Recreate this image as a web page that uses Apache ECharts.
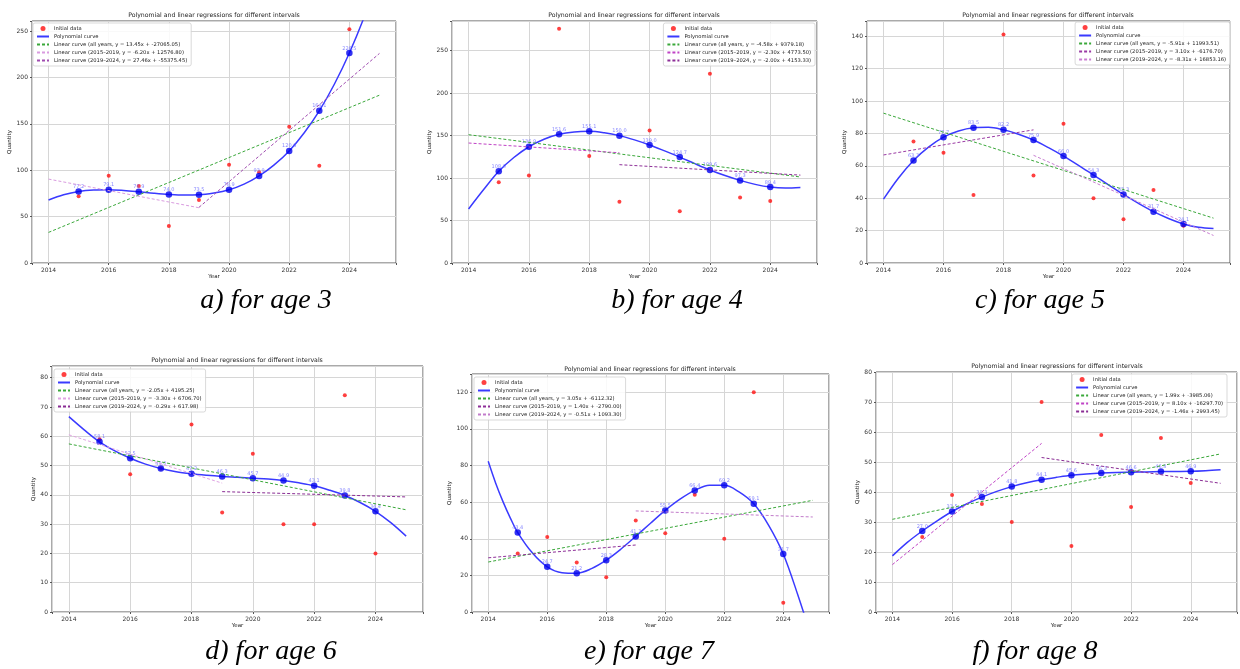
<!DOCTYPE html>
<html>
<head>
<meta charset="utf-8">
<script src="https://cdn.jsdelivr.net/npm/echarts@6/dist/echarts.min.js"></script>
<style>html,body{margin:0;padding:0;background:#fff}#c{width:1240px;height:669px}</style>
</head>
<body>
<div id="c"></div>
<script>
// ---------- data ----------
const years = [2015, 2016, 2017, 2018, 2019, 2020, 2021, 2022, 2023, 2024];
const xTickYears = [2014, 2016, 2018, 2020, 2022, 2024];
const titleText = 'Polynomial and linear regressions for different intervals';

// age 3
const initial3 = [72, 94, 83, 40, 68, 106, 98, 147, 105, 252];
const poly3 = [77.2, 79.1, 76.9, 74.0, 73.5, 78.9, 93.9, 120.9, 164.1, 226.5];
const curve3 = [[2014,68],[2014.5,73.6],[2015,77.2],[2015.5,78.8],[2016,79.1],[2016.5,78.3],[2017,76.9],[2017.5,75.3],[2018,74.0],[2018.5,73.3],[2019,73.5],[2019.5,75.4],[2020,78.9],[2020.5,85.0],[2021,93.9],[2021.5,105.8],[2022,120.9],[2022.5,140.5],[2023,164.1],[2023.5,192.8],[2024,226.5],[2024.5,266],[2025,312]];
const lineAll3 = [[2014,33],[2025,181]];
const line1519_3 = [[2014,90.5],[2019,59.6]];
const line1924_3 = [[2019,60],[2025,226]];
const names3 = ['Linear curve (all years, y = 13.45x + -27065.05)', 'Linear curve (2015–2019, y = -6.20x + 12576.80)', 'Linear curve (2019–2024, y = 27.46x + -55375.45)'];

// age 4
const initial4 = [95, 103, 276, 126, 72, 156, 61, 223, 77, 73];
const poly4 = [108.0, 136.9, 151.6, 155.1, 150.0, 139.0, 124.7, 109.6, 97.3, 89.4];
const curve4 = [[2014,63.6],[2014.5,86.5],[2015,108.0],[2015.5,124.2],[2016,136.9],[2016.5,145.8],[2017,151.6],[2017.5,154.4],[2018,155.1],[2018.5,153.4],[2019,150.0],[2019.5,145.0],[2020,139.0],[2020.5,132.0],[2021,124.7],[2021.5,117.0],[2022,109.6],[2022.5,103.0],[2023,97.3],[2023.5,92.6],[2024,89.4],[2024.5,88.3],[2025,89.0]];
const lineAll4 = [[2014,151.1],[2025,101.3]];
const line1519_4 = [[2014,141.3],[2019,129.8]];
const line1924_4 = [[2019,115.8],[2025,103.5]];
const names4 = ['Linear curve (all years, y = -4.58x + 9379.18)', 'Linear curve (2015–2019, y = -2.30x + 4773.50)', 'Linear curve (2019–2024, y = -2.00x + 4153.33)'];

// age 5
const initial5 = [75, 68, 42, 141, 54, 86, 40, 27, 45, 23];
const poly5 = [63.3, 77.7, 83.5, 82.2, 75.9, 66.0, 54.3, 42.3, 31.7, 24.1];
const curve5 = [[2014,39.4],[2014.5,52.5],[2015,63.3],[2015.5,71.5],[2016,77.7],[2016.5,81.5],[2017,83.5],[2017.5,83.8],[2018,82.2],[2018.5,79.5],[2019,75.9],[2019.5,71.2],[2020,66.0],[2020.5,60.3],[2021,54.3],[2021.5,48.3],[2022,42.3],[2022.5,36.8],[2023,31.7],[2023.5,27.5],[2024,24.1],[2024.5,22.0],[2025,21.3]];
const lineAll5 = [[2014,92.5],[2025,27.7]];
const line1519_5 = [[2014,66.7],[2019,82.2]];
const line1924_5 = [[2019,66.5],[2025,17.0]];
const names5 = ['Linear curve (all years, y = -5.91x + 11993.51)', 'Linear curve (2015–2019, y = 3.10x + -6176.70)', 'Linear curve (2019–2024, y = -8.31x + 16853.16)'];

// age 6
const initial6 = [59, 47, 49, 64, 34, 54, 30, 30, 74, 20];
const poly6 = [58.1, 52.5, 49.0, 47.2, 46.3, 45.7, 44.9, 43.1, 39.8, 34.4];
const curve6 = [[2014,66.7],[2014.5,62.2],[2015,58.1],[2015.5,55.0],[2016,52.5],[2016.5,50.5],[2017,49.0],[2017.5,47.9],[2018,47.2],[2018.5,46.7],[2019,46.3],[2019.5,46.0],[2020,45.7],[2020.5,45.4],[2021,44.9],[2021.5,44.1],[2022,43.1],[2022.5,41.6],[2023,39.8],[2023.5,37.4],[2024,34.4],[2024.5,30.5],[2025,25.9]];
const lineAll6 = [[2014,57.4],[2025,34.9]];
const line1519_6 = [[2014,60.5],[2019,44.0]];
const line1924_6 = [[2019,41.1],[2025,39.3]];
const names6 = ['Linear curve (all years, y = -2.05x + 4195.25)', 'Linear curve (2015–2019, y = -3.30x + 6706.70)', 'Linear curve (2019–2024, y = -0.29x + 617.98)'];

// age 7
const initial7 = [32, 41, 27, 19, 50, 43, 64, 40, 120, 5];
const poly7 = [43.4, 24.7, 21.2, 28.3, 41.3, 55.5, 66.4, 69.2, 59.1, 31.7];
const curve7 = [[2014,82.3],[2014.25,70.5],[2014.5,60.3],[2014.75,51.3],[2015,43.4],[2015.5,32.2],[2016,24.7],[2016.5,21.5],[2017,21.2],[2017.5,23.7],[2018,28.3],[2018.5,34.4],[2019,41.3],[2019.5,48.5],[2020,55.5],[2020.5,61.6],[2021,66.4],[2021.5,69.2],[2022,69.2],[2022.5,65.6],[2023,59.1],[2023.5,47.5],[2024,31.7],[2024.5,9],[2025,-16]];
const lineAll7 = [[2014,27.3],[2025,61.0]];
const line1519_7 = [[2014,29.6],[2019,36.6]];
const line1924_7 = [[2019,55.2],[2025,51.9]];
const names7 = ['Linear curve (all years, y = 3.05x + -6112.32)', 'Linear curve (2015–2019, y = 1.40x + -2790.00)', 'Linear curve (2019–2024, y = -0.51x + 1093.30)'];

// age 8
const initial8 = [25, 39, 36, 30, 70, 22, 59, 35, 58, 43];
const poly8 = [27.0, 33.5, 38.3, 41.8, 44.1, 45.6, 46.3, 46.6, 46.8, 46.9];
const curve8 = [[2014,18.7],[2014.5,23.2],[2015,27.0],[2015.5,30.4],[2016,33.5],[2016.5,36.1],[2017,38.3],[2017.5,40.2],[2018,41.8],[2018.5,43.1],[2019,44.1],[2019.5,44.9],[2020,45.6],[2020.5,46.0],[2021,46.3],[2021.5,46.5],[2022,46.6],[2022.5,46.7],[2023,46.8],[2023.5,46.85],[2024,46.9],[2024.5,47.1],[2025,47.4]];
const lineAll8 = [[2014,30.9],[2025,52.7]];
const line1519_8 = [[2014,15.8],[2019,56.2]];
const line1924_8 = [[2019,51.5],[2025,42.9]];
const names8 = ['Linear curve (all years, y = 1.99x + -3985.06)', 'Linear curve (2015–2019, y = 8.10x + -16297.70)', 'Linear curve (2019–2024, y = -1.46x + 2993.45)'];

const captions = ['a) for age 3', 'b) for age 4', 'c) for age 5', 'd) for age 6', 'e) for age 7', 'f) for age 8'];
const yMaxes = [261, 285, 149.4, 84, 130, 80];
const yIntervals = [50, 50, 20, 10, 20, 10];

// ---------- layout / style ----------
const panels = [
  {grid:{left:32,top:21,width:364,height:242}, tx:214, ty:12, legend:{left:33,top:23}, yGap:18, cap:[266,301], cols:['#d99be0','#a04cb0'],
   d:{ini:initial3, poly:poly3, curve:curve3, all:lineAll3, e:line1519_3, l:line1924_3, names:names3}},
  {grid:{left:452,top:21,width:365,height:242}, tx:634, ty:12, legend:{right:425,top:23}, yGap:17, cap:[677,301], cols:['#c043c6','#8e2f98'],
   d:{ini:initial4, poly:poly4, curve:curve4, all:lineAll4, e:line1519_4, l:line1924_4, names:names4}},
  {grid:{left:867,top:21,width:363,height:242}, tx:1048, ty:12, legend:{right:10,top:22}, yGap:18, cap:[1040,301], cols:['#9a3aa4','#c97fd2'],
   d:{ini:initial5, poly:poly5, curve:curve5, all:lineAll5, e:line1519_5, l:line1924_5, names:names5}},
  {grid:{left:52,top:366,width:371,height:246}, tx:237, ty:357, legend:{left:54,top:369}, yGap:13, cap:[271,652], cols:['#e0a3e3','#8a2c94'],
   d:{ini:initial6, poly:poly6, curve:curve6, all:lineAll6, e:line1519_6, l:line1924_6, names:names6}},
  {grid:{left:472,top:374,width:357,height:238}, tx:650, ty:366, legend:{left:474,top:377}, yGap:16, cap:[649,652], cols:['#8e2f98','#c27ccb'],
   d:{ini:initial7, poly:poly7, curve:curve7, all:lineAll7, e:line1519_7, l:line1924_7, names:names7}},
  {grid:{left:876,top:372,width:362,height:240}, tx:1057, ty:363, legend:{right:13,top:374}, yGap:12, cap:[1035,652], cols:['#c043c6','#8a2c94'],
   d:{ini:initial8, poly:poly8, curve:curve8, all:lineAll8, e:line1519_8, l:line1924_8, names:names8}}
];

const FONT = 'DejaVu Sans';
const grids = [], xAxes = [], yAxes = [], series = [], legends = [], titles = [], graphics = [];
const lineItem = name => ({name:name, itemStyle:{opacity:0}});

panels.forEach((p, i) => {
  grids.push(Object.assign({show:true, borderColor:'#555', borderWidth:1, backgroundColor:'#fff'}, p.grid));
  xAxes.push({
    type:'value', gridIndex:i, min:2013.45, max:2025.55, splitNumber:6,
    name:'Year', nameLocation:'middle', nameGap:10,
    nameTextStyle:{fontSize:5.5, color:'#222', fontFamily:FONT},
    axisLine:{show:false}, axisTick:{show:true, length:2, lineStyle:{color:'#555'}},
    axisLabel:{fontSize:6, color:'#333', fontFamily:FONT, margin:4,
      formatter: v => (xTickYears.indexOf(Math.round(v*1000)/1000) >= 0 ? String(v) : '')},
    splitLine:{show:true, lineStyle:{color:'#d6d6d6', width:1}}
  });
  const yint = yIntervals[i];
  yAxes.push({
    type:'value', gridIndex:i, min:0, max:yMaxes[i], interval:yint,
    name:'Quantity', nameLocation:'middle', nameGap:p.yGap,
    nameTextStyle:{fontSize:5.5, color:'#222', fontFamily:FONT},
    axisLine:{show:false}, axisTick:{show:true, length:2, lineStyle:{color:'#555'}},
    axisLabel:{fontSize:6, color:'#333', fontFamily:FONT, margin:4,
      formatter: v => (Math.abs(v / yint - Math.round(v / yint)) < 1e-6 ? String(v) : '')},
    splitLine:{show:true, lineStyle:{color:'#d6d6d6', width:1}}
  });
  const d = p.d;
  series.push({
    type:'scatter', name:'Initial data', xAxisIndex:i, yAxisIndex:i, symbolSize:4, z:2,
    itemStyle:{color:'#ff1010'}, data: years.map((y, k) => [y, d.ini[k]])
  });
  series.push({
    type:'line', name:'Polynomial curve', xAxisIndex:i, yAxisIndex:i, smooth:0.35, showSymbol:false, symbol:'none', z:3,
    lineStyle:{color:'#3a3aff', width:1.5}, itemStyle:{color:'#3a3aff'}, data:d.curve
  });
  series.push({
    type:'scatter', name:'poly points ' + i, xAxisIndex:i, yAxisIndex:i, symbolSize:6.5, z:4,
    itemStyle:{color:'#0000ee'},
    label:{show:true, position:'top', distance:-1, fontSize:5, color:'#6a6aff', fontFamily:FONT,
      formatter: pr => pr.value[1].toFixed(1)},
    data: years.map((y, k) => [y, d.poly[k]])
  });
  const dashed = (name, data, color) => ({
    type:'line', name:name, xAxisIndex:i, yAxisIndex:i, showSymbol:false, symbol:'none', z:5,
    lineStyle:{color:color, width:1, type:[3,2]}, itemStyle:{color:color}, data:data
  });
  series.push(dashed(d.names[0], d.all, '#3aa83a'));
  series.push(dashed(d.names[1], d.e, p.cols[0]));
  series.push(dashed(d.names[2], d.l, p.cols[1]));

  legends.push(Object.assign({
    orient:'vertical', itemWidth:12, itemHeight:5, itemGap:3, padding:[3,4,3,3],
    borderColor:'#cfcfcf', borderWidth:0.8, borderRadius:2, backgroundColor:'rgba(255,255,255,0.85)',
    textStyle:{fontSize:5.2, color:'#222', fontFamily:FONT, lineHeight:5},
    selectedMode:false,
    data:[{name:'Initial data', icon:'circle'}, lineItem('Polynomial curve'), lineItem(d.names[0]), lineItem(d.names[1]), lineItem(d.names[2])]
  }, p.legend));

  titles.push({text:titleText, left:p.tx, top:p.ty, textAlign:'center', padding:0,
    textStyle:{fontSize:6.2, fontWeight:'normal', color:'#222', fontFamily:FONT}});

  graphics.push({type:'text', x:p.cap[0], y:p.cap[1], z:10,
    style:{text:captions[i], fill:'#000', fontSize:28, fontStyle:'italic', fontFamily:'Liberation Serif',
      align:'center', verticalAlign:'middle'}});
});

const chart = echarts.init(document.getElementById('c'));
chart.setOption({
  animation:false,
  backgroundColor:'#fff',
  title:titles,
  grid:grids,
  xAxis:xAxes,
  yAxis:yAxes,
  legend:legends,
  series:series,
  graphic:graphics
});
</script>
</body>
</html>
